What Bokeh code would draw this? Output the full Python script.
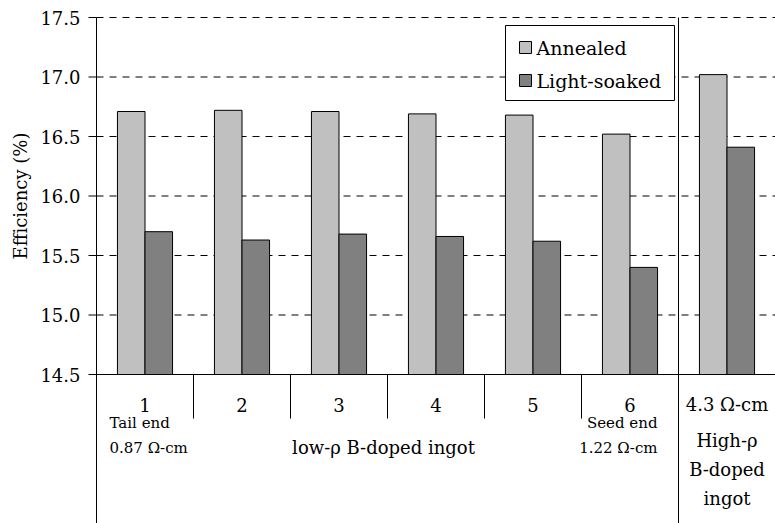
import math
from bokeh.plotting import figure
from bokeh.models import ColumnDataSource
from bokeh.core.properties import value
from bokeh.embed import file_html
from bokeh.resources import INLINE

groups = ["1", "2", "3", "4", "5", "6", "4.3 \u03a9-cm"]
annealed = [16.71, 16.72, 16.71, 16.69, 16.68, 16.52, 17.02]
soaked = [15.70, 15.63, 15.68, 15.66, 15.62, 15.40, 16.41]
yticks = [14.5, 15.0, 15.5, 16.0, 16.5, 17.0, 17.5]
series = ["Annealed", "Light-soaked"]
colors = ["#c0c0c0", "#808080"]

FONT = value("DejaVu Serif")
BASE = 14.5


def X(px):
    return (px - 96) / 97.0


def Y(py):
    return 17.5 - (py - 17) / 119.0


p = figure(width=775, height=523, x_range=(X(0), 7), y_range=(Y(523), Y(0)),
           output_backend="svg", toolbar_location=None,
           min_border_left=0, min_border_right=0, min_border_top=0, min_border_bottom=0)
p.outline_line_color = None
p.axis.visible = False
p.grid.visible = False

# grid lines
p.segment(x0=[0] * 6, y0=yticks[1:], x1=[7] * 6, y1=yticks[1:],
          line_color="black", line_dash="7 6")

xs = [i + 0.5 for i in range(7)]
src = ColumnDataSource(dict(xa=[x - 0.142 for x in xs], xs=[x + 0.142 for x in xs],
                            a=annealed, s=soaked))
p.vbar(x="xa", top="a", bottom=BASE, width=0.284, source=src,
       fill_color=colors[0], line_color="black", line_width=1)
p.vbar(x="xs", top="s", bottom=BASE, width=0.284, source=src,
       fill_color=colors[1], line_color="black", line_width=1)

# y axis
p.segment(x0=[0], y0=[Y(523)], x1=[0], y1=[17.5], line_color="black")
p.segment(x0=[X(88)] * 7, y0=yticks, x1=[0] * 7, y1=yticks, line_color="black")
p.text(x=[X(80)] * 7, y=yticks, text=["%.1f" % t for t in yticks], text_font=FONT,
       text_font_size="18px", text_align="right", text_baseline="middle")
p.text(x=[X(20)], y=[16.0], text=["Efficiency (%)"], angle=math.pi / 2, text_font=FONT,
       text_font_size="18px", text_align="center", text_baseline="middle")

# x axis line and dividers
p.segment(x0=[0], y0=[BASE], x1=[7], y1=[BASE], line_color="black", line_width=1.2)
p.segment(x0=[1, 2, 3, 4, 5], y0=[BASE] * 5, x1=[1, 2, 3, 4, 5], y1=[Y(418)] * 5,
          line_color="black")
p.segment(x0=[6], y0=[17.5], x1=[6], y1=[Y(523)], line_color="black")

p.text(x=xs, y=[Y(404)] * 7, text=groups, text_font=FONT, text_font_size="18px",
       text_align="center", text_baseline="middle")
p.text(x=[X(109)] * 2, y=[Y(422), Y(447)], text=["Tail end", "0.87 \u03a9-cm"],
       text_font=FONT, text_font_size="15px", text_align="left", text_baseline="middle")
p.text(x=[X(657)] * 2, y=[Y(422), Y(447)], text=["Seed end", "1.22 \u03a9-cm"],
       text_font=FONT, text_font_size="15px", text_align="right", text_baseline="middle")
p.text(x=[X(383)], y=[Y(447)], text=["low-\u03c1 B-doped ingot"],
       text_font=FONT, text_font_size="18px", text_align="center", text_baseline="middle")
p.text(x=[6.5] * 3, y=[Y(440), Y(469), Y(498)], text=["High-\u03c1", "B-doped", "ingot"],
       text_font=FONT, text_font_size="18px", text_align="center", text_baseline="middle")

# legend
p.quad(left=[X(505)], right=[X(674)], top=[Y(25)], bottom=[Y(100)],
       fill_color="white", line_color="black")
ly = [Y(47), Y(80)]
p.quad(left=[X(519)] * 2, right=[X(531)] * 2, top=[y + 6 / 119.0 for y in ly],
       bottom=[y - 6 / 119.0 for y in ly], fill_color=colors, line_color="black")
p.text(x=[X(536)] * 2, y=ly, text=series, text_font=FONT, text_font_size="19px",
       text_align="left", text_baseline="middle")

open("out.html", "w").write(file_html(p, INLINE))
